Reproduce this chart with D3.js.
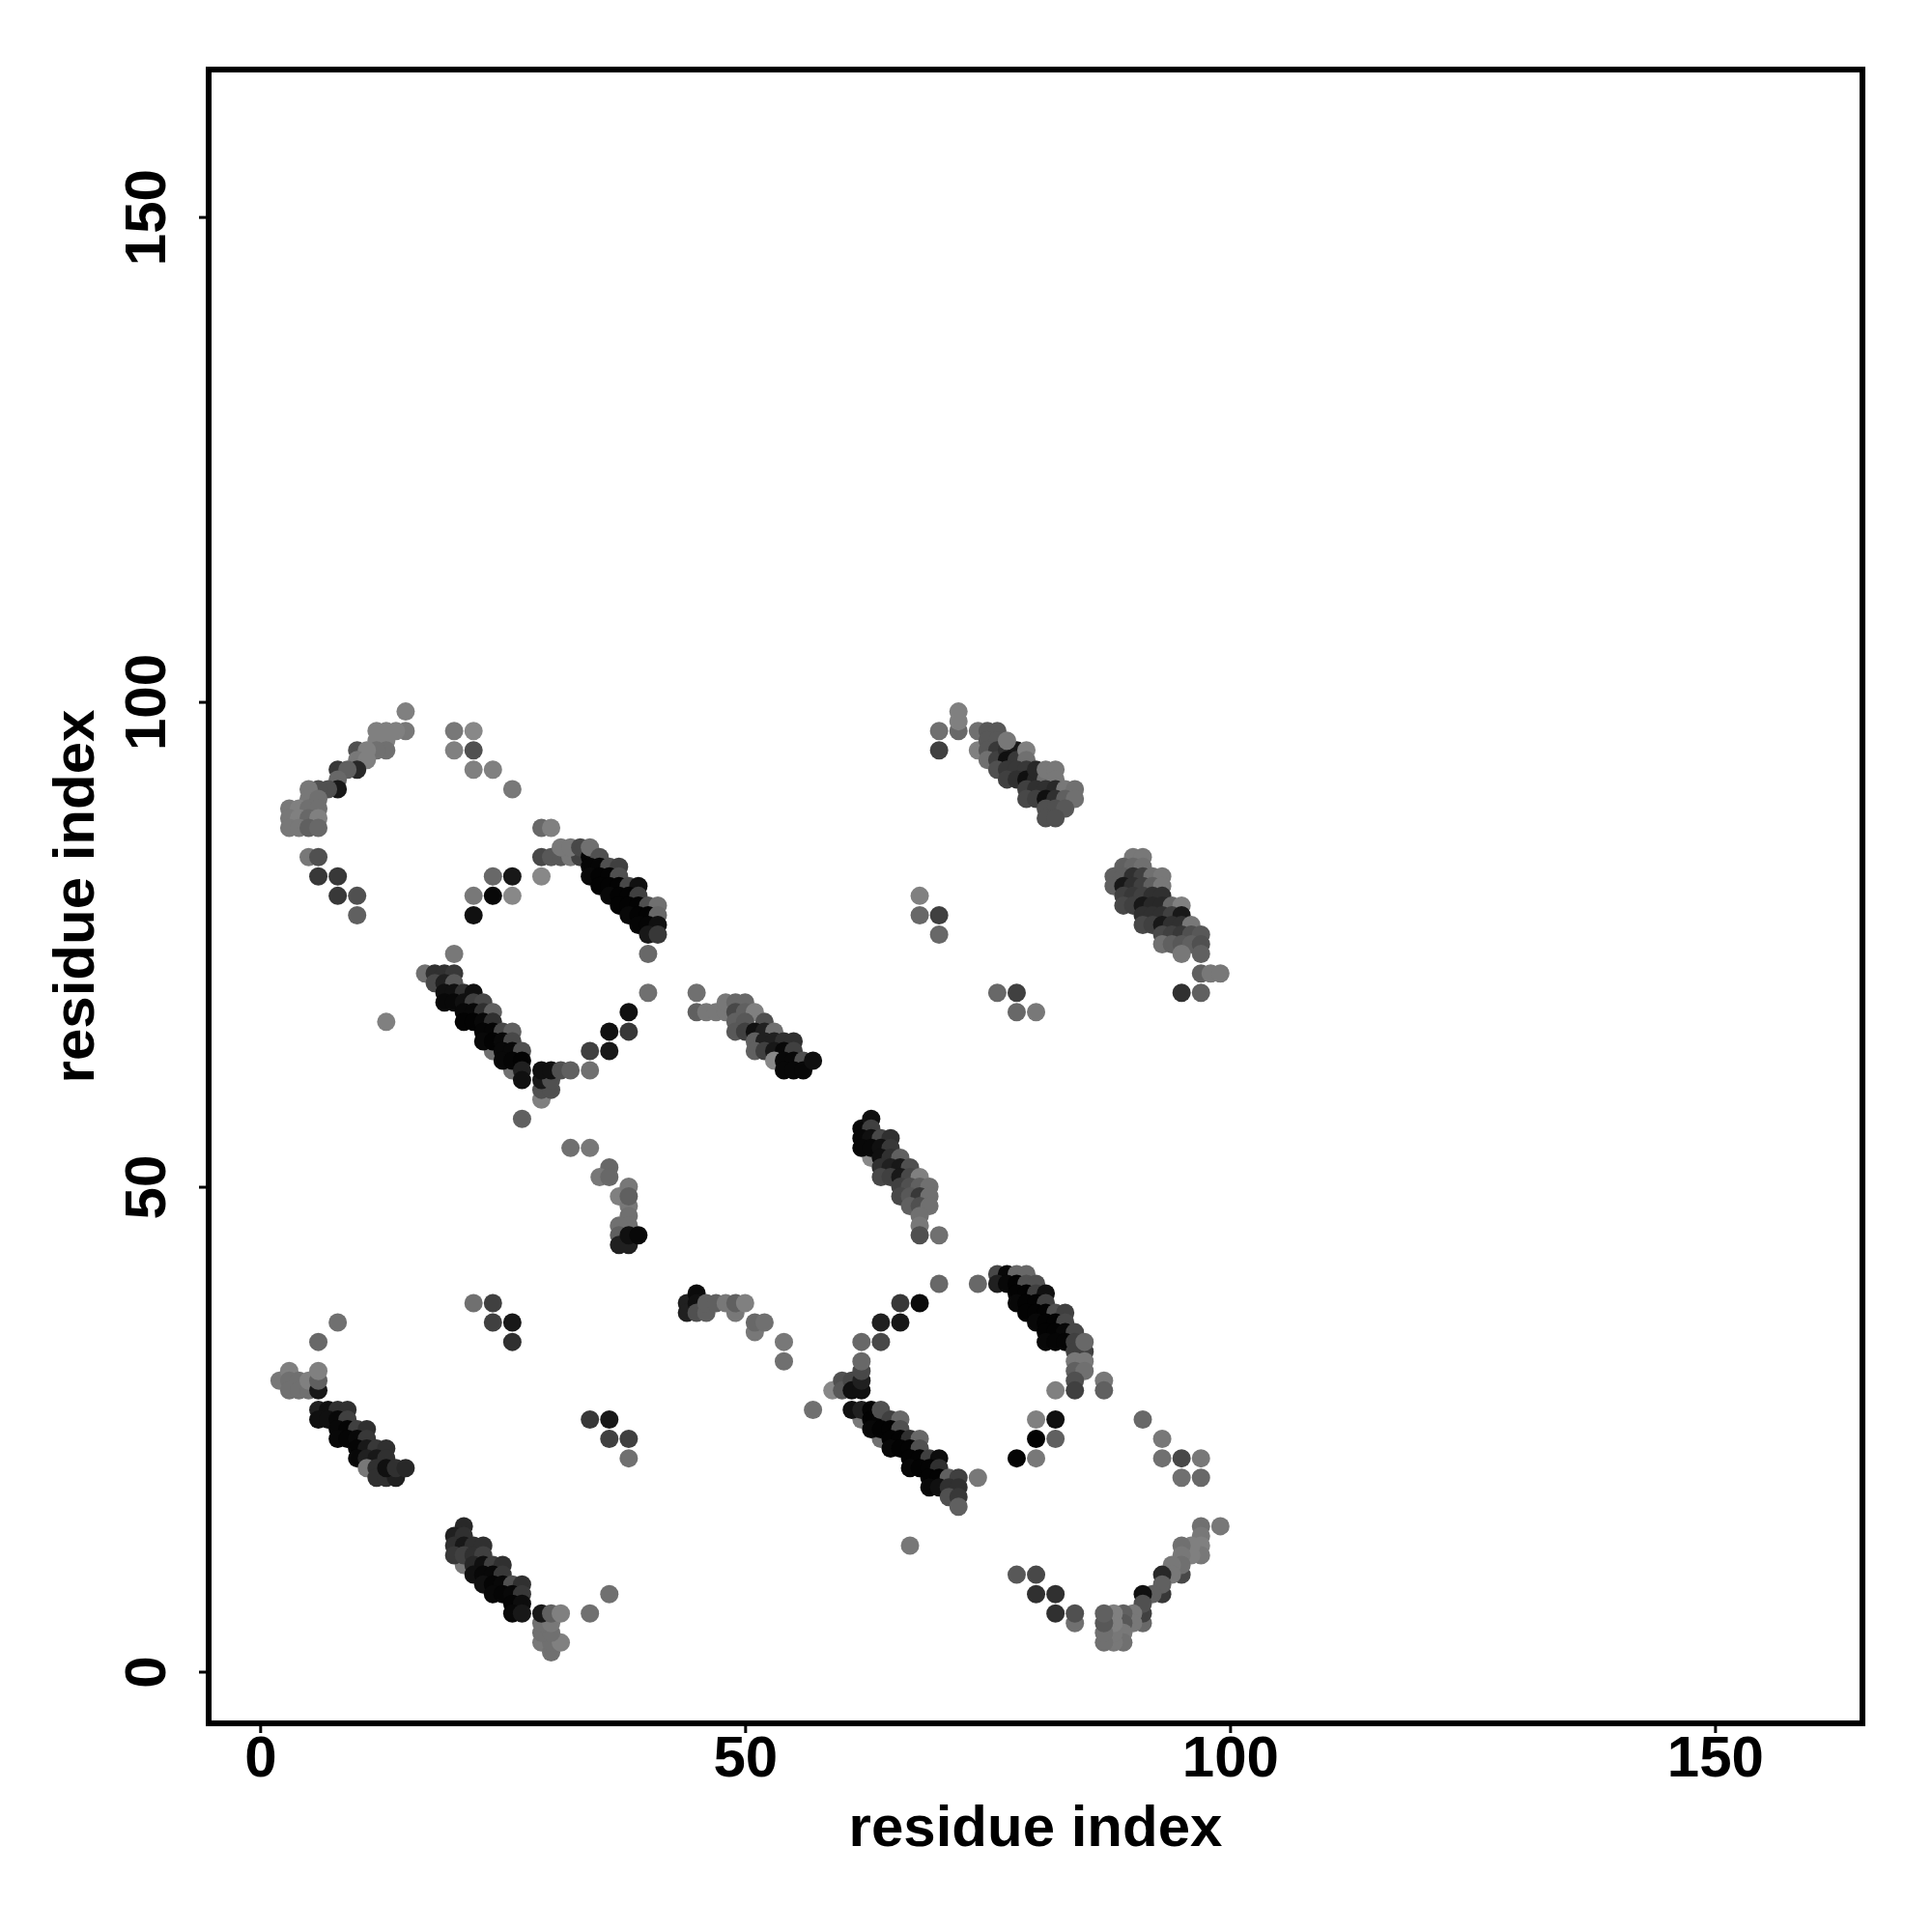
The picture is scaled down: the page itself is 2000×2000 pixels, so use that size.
<!DOCTYPE html>
<html><head><meta charset="utf-8">
<script src="https://cdn.jsdelivr.net/npm/d3@7"></script>
<style>html,body{margin:0;background:#fff}svg{display:block}text{font-family:"Liberation Sans",Arial,sans-serif;font-weight:bold;fill:#000}</style>
</head><body><div id="chart"></div>
<script>
// each contact: [residue i, residue j, score] – score maps to a grey level
const arcUpperLeft=[[15,99,8],[15,97,7.5],[14,97,8],[13,97,8],[12,97,8],[13,96,8],[12,96,8],[10,95,5],[13,95,7],[12,95,7],[11,95,8],[10,94,7.5],[11,94,8],[8,93,3.5],[10,93,2.5],[9,93,6],[8,92,6.5],[8,91,1.5],[7,91,5],[6,91,5],[5,91,7.5],[5,90,7.5],[6,90,7],[3,89,7.5],[4,89,8],[5,89,7],[6,89,7],[3,88,7.5],[4,88,8],[5,88,6.5],[6,88,8],[3,87,7.5],[4,87,7.5],[5,87,6],[6,87,6.5],[5,84,7.5],[6,84,5],[6,82,3.5],[8,82,3.5],[8,80,3.5],[10,80,5],[10,78,6]];
const patchTop=[[20,97,7.5],[22,97,8.5],[20,95,8],[22,95,5],[22,93,8],[24,93,8],[26,91,7.5],[13,67,8],[20,74,7.5],[24,82,6.5],[26,82,1.5],[22,80,7.5],[24,80,.5],[26,80,8.5],[22,78,1],[29,82,8.5]];
const bandA=[[29,87,6.5],[30,87,8],[29,84,4.5],[30,84,5.5],[31,84,5.5],[32,84,7.5],[33,84,4],[31,85,7.5],[32,85,7.5],[33,85,4.5],[34,84,.3],[34,85,7],[35,84,5],[34,83,.3],[35,83,.3],[36,83,5],[37,83,4],[34,82,.5],[35,82,.2],[36,82,.2],[37,82,5],[35,81,.2],[36,81,.2],[37,81,.2],[38,81,4.5],[39,81,1],[36,80,.5],[37,80,.2],[38,80,.2],[39,80,4],[37,79,.2],[38,79,.2],[39,79,.2],[40,79,5],[41,79,7],[38,78,.5],[39,78,.2],[40,78,.2],[41,78,6.5],[39,77,.3],[40,77,.3],[41,77,1],[40,76,1.5],[41,76,3.5],[40,74,6.5],[40,70,7]];
const bandB=[[17,72,7],[18,72,3],[19,72,3],[20,72,3.5],[18,71,4.5],[19,71,2],[20,71,5.5],[19,70,1],[20,70,1],[21,70,3],[22,70,1],[19,69,.5],[20,69,.5],[21,69,1],[22,69,4],[23,69,4.5],[21,68,.5],[22,68,.5],[23,68,3],[24,68,6],[21,67,.2],[22,67,.2],[23,67,.5],[24,67,3],[23,66,.3],[24,66,.3],[25,66,4.5],[26,66,6],[24,64,7],[26,62,7],[23,65,.5],[24,65,.2],[25,65,.5],[26,65,4.5],[25,64,.5],[26,64,.5],[27,64,5],[25,63,.5],[26,63,.3],[27,63,.2],[27,62,2],[27,61,1],[27,57,6]];
const arcLoopA=[[29,59,8],[29,60,5],[30,60,5],[29,61,1.5],[30,61,5],[29,62,1],[30,62,1],[31,62,5],[32,62,6],[34,62,7],[34,64,4],[36,64,1.5],[36,66,1],[38,66,3.5],[38,68,1]];
const bandC=[[45,70,7],[45,68,6],[46,68,7.5],[47,68,7.5],[48,68,7.5],[48,69,7.5],[49,69,6.5],[50,69,6.5],[49,68,4.5],[50,68,6],[51,68,8],[49,67,6],[50,67,5.5],[52,67,5],[49,66,5.5],[50,66,4],[51,66,1],[52,66,2],[53,66,7],[51,65,6],[52,65,2],[53,65,2],[54,65,3],[55,65,3],[51,64,6],[52,64,4],[53,64,1.5],[54,64,.5],[55,64,4],[53,63,8.5],[54,63,.5],[55,63,.5],[56,63,5],[54,62,.5],[55,62,.5],[56,62,.5],[57,63,1]];
const bandD=[[70,97,7],[70,95,4],[72,99,8],[72,97,6.5],[72,98,8],[74,97,7],[75,97,5.5],[76,97,5.5],[74,95,8],[75,96,5.5],[76,96,5.5],[75,95,5.5],[76,95,3.5],[75,94,7],[76,94,4],[77,95,3],[78,95,1.5],[77,96,7.5],[77,94,1],[78,94,3.5],[79,95,8],[79,94,7],[76,93,5],[77,93,3.5],[78,93,3.5],[79,93,3.5],[77,92,4],[78,92,3],[79,92,1],[80,92,2.5],[80,93,2.5],[81,92,7],[81,93,7.5],[82,93,7.5],[82,92,7.5],[79,91,4],[80,91,3],[81,91,3],[82,91,2.5],[83,91,7.5],[84,91,7],[79,90,4.5],[80,90,4],[81,90,1],[82,90,3],[83,90,6],[84,90,7],[81,89,5],[82,89,5],[83,89,5.5],[81,88,5],[82,88,5]];
const patchRight=[[68,80,8],[68,78,6.5],[70,78,4],[70,76,6.5],[76,70,6.5],[78,70,4],[78,68,6.5],[80,68,7.5]];
const bandE=[[90,84,7.5],[91,84,7.5],[89,83,6],[90,83,6.5],[91,83,7],[88,82,6],[89,82,6],[90,82,3],[91,82,4],[92,82,7],[93,82,7.5],[88,81,6],[89,81,1.5],[90,81,3],[91,81,4],[92,81,6],[93,81,7.5],[89,80,4],[90,80,3.5],[91,80,4],[92,80,3],[93,80,3],[89,79,4.5],[90,79,4],[91,79,1.5],[92,79,2.5],[93,79,2.5],[94,79,6.5],[95,79,8],[91,78,3],[92,78,3],[93,78,3],[94,78,4],[95,78,1.5],[91,77,4.5],[92,77,4],[93,77,1.5],[94,77,3],[95,77,3],[96,77,7.5],[93,76,4.5],[94,76,4],[95,76,3.5],[96,76,5],[97,76,5.5],[93,75,7],[94,75,6],[95,75,5.5],[96,75,6],[97,75,5],[95,74,7.5],[97,74,6],[97,72,6],[98,72,7.5],[99,72,7.5],[95,70,3],[97,70,6]];
const midArc=[[32,54,7],[34,54,7.5],[36,52,6.5],[35,51,7.5],[36,51,6.5],[37,49,8],[38,48,7.5],[38,47,7],[38,46,7],[37,46,7],[37,45,6],[38,50,7.5],[38,49,6],[37,44,2],[38,44,2],[38,45,1],[39,45,.5]];
const bandF=[[62,56,.5],[63,57,1],[63,56,4],[62,55,.5],[63,55,1],[64,55,4.5],[65,55,3],[63,53,8.5],[62,54,.5],[63,54,.5],[64,54,1],[65,54,3.5],[64,53,1],[65,53,3],[66,53,6],[64,52,3],[65,52,2],[66,52,1.5],[67,52,5],[64,51,4.5],[65,51,4],[66,51,1.5],[67,51,4.5],[68,51,8],[66,50,4],[67,50,5],[68,50,6],[69,50,7],[66,49,4.5],[67,49,5.5],[68,49,3.5],[69,49,7],[67,48,6],[68,48,5],[69,48,7],[68,47,7],[68,46,7.5],[68,45,5],[70,45,7]];
const bandG=[[44,38,2],[44,37,2],[45,39,.7],[45,38,1],[45,37,5],[46,37,6],[46,38,6],[47,38,6],[48,38,7.5],[49,37,7.5],[49,38,6],[50,38,8],[51,35,7.5],[51,36,6.5],[52,36,7],[54,34,7.5],[54,32,7],[57,27,7]];
const arcLoopB=[[59,29,8.5],[60,30,5],[60,29,5.5],[61,30,4.5],[61,29,1],[62,29,1],[62,30,2],[62,31,4.5],[62,32,6.5],[62,34,6.5],[64,34,4.5],[64,36,2],[66,36,1.5],[66,38,3.5],[68,38,.7],[70,40,6.5],[74,40,6.5]];
const bandH=[[76,41,4.5],[77,41,.5],[78,41,6.5],[79,41,6.5],[76,40,2],[77,40,.5],[78,40,.2],[79,40,5],[80,40,5],[78,39,.2],[79,39,.2],[80,39,4],[81,39,1],[78,38,.5],[79,38,.2],[80,38,.2],[81,38,4],[79,37,.2],[80,37,.2],[81,37,.2],[82,37,5],[83,37,4],[80,36,.5],[81,36,.2],[82,36,.2],[83,36,4.5],[81,35,.2],[82,35,.2],[83,35,.5],[84,35,4.5],[81,34,.5],[82,34,.3],[83,34,.3],[84,34,4],[84,33,4],[85,33,4],[84,32,7.5],[85,32,7.5],[84,31,6],[85,31,7],[85,34,6.5],[84,30,5],[84,29,4],[82,29,8],[87,30,7.5],[87,29,6]];
const bandI=[[62,26,7.5],[64,24,7],[61,27,1],[62,27,2],[63,27,.3],[63,26,.2],[64,26,.3],[64,27,5],[65,26,4],[66,26,6.5],[63,25,.5],[64,25,.2],[65,25,.2],[66,25,5],[65,24,.2],[66,24,.2],[67,24,3],[68,24,6.5],[65,23,.5],[66,23,.2],[67,23,.2],[68,23,5],[67,22,.2],[68,22,.2],[69,22,4],[70,22,.8],[67,21,.5],[68,21,.2],[69,21,.2],[70,21,3],[69,20,.2],[70,20,.2],[71,20,6],[72,20,4],[74,20,7.5],[69,19,.5],[70,19,1],[71,19,3],[72,19,3],[71,18,5],[72,18,3.5],[72,17,6],[67,13,7.5]];
const patchLower=[[80,26,8],[82,26,1],[80,24,.2],[82,24,6],[78,22,.3],[80,22,7.5],[91,26,6.5],[93,24,7.5],[93,22,7],[95,22,4.5],[97,22,7.5],[95,20,7],[97,20,6.5],[22,38,7],[24,38,4],[24,36,4],[26,36,1.5],[26,34,3],[34,26,3.5],[36,26,1.5],[36,24,4],[38,24,4],[38,22,7],[8,36,7],[6,34,6.5],[78,10,5.5],[80,10,4.5],[80,8,3],[82,8,3],[82,6,3],[84,5,7],[84,6,5]];
const arcLowerRight=[[99,15,7.5],[97,15,7],[97,14,7.5],[97,13,8],[97,12,7.5],[96,13,8],[96,12,8],[95,13,7],[95,12,7.5],[95,10,4.5],[95,11,7],[94,11,7.5],[94,10,7.5],[93,10,2.5],[93,8,3.5],[93,9,6],[92,8,6],[91,8,1],[91,5,6.5],[91,6,4],[91,7,5],[90,6,7.5],[90,5,7.5],[89,6,6],[89,5,5.5],[89,4,7.5],[89,3,7],[88,3,7.5],[88,4,7.5],[88,5,8],[88,6,8],[87,3,7],[87,4,7],[87,5,5.5],[87,6,6]];
const bandJ=[[2,30,7.5],[3,31,8],[3,30,7],[4,30,7],[3,29,7],[4,29,7],[5,29,7],[5,30,8],[6,29,1.5],[6,30,6],[6,31,8],[6,27,2],[7,27,1],[8,27,3],[9,27,3],[6,26,1],[7,26,1],[8,26,.5],[9,26,4],[8,25,.5],[9,25,.3],[10,25,4],[11,25,3],[8,24,.5],[9,24,.3],[10,24,.5],[11,24,3.5],[10,23,.3],[11,23,1.5],[12,23,3.5],[13,23,3],[10,22,.5],[11,22,2],[12,22,1.5],[13,22,3],[11,21,7.5],[12,21,3],[12,20,3],[13,20,3],[14,20,2],[13,21,1],[14,21,3],[15,21,2.5]];
const bandK=[[21,11,7.5],[21,15,2.5],[20,14,2],[21,14,3],[20,13,3],[21,13,1.5],[22,13,3],[23,13,3],[20,12,3.5],[21,12,4],[22,12,3],[23,12,4],[22,11,2.5],[23,11,1],[24,11,4],[25,11,3],[22,10,1],[23,10,.5],[24,10,.5],[25,10,3.5],[23,9,1],[24,9,.3],[25,9,.5],[26,9,5],[27,9,3],[24,8,.5],[25,8,.3],[26,8,.5],[27,8,3.5],[26,7,.3],[27,7,.8],[26,6,.5],[27,6,1.5]];
const arcFoot=[[29,3,7.5],[30,2,7],[30,3,7],[31,3,8],[29,4,7],[30,4,7],[29,5,7],[30,5,7.5],[29,6,1.5],[30,6,6],[31,6,8],[34,6,7],[36,8,7]];
const contactGroups=[arcUpperLeft,patchTop,bandA,bandB,arcLoopA,bandC,bandD,patchRight,bandE,midArc,bandF,bandG,arcLoopB,bandH,bandI,patchLower,arcLowerRight,bandJ,bandK,arcFoot];
const xTicks=[0,50,100,150], yTicks=[0,50,100,150];
const axisTitle="residue index";

const svg=d3.select("#chart").append("svg").attr("width",2000).attr("height",2000);
const x=d3.scaleLinear().domain([-5.31,165.2]).range([216,1928]);
const y=d3.scaleLinear().domain([-5.33,165.2]).range([1784,72]);
const grey=d3.scaleLinear().domain([0,9]).range([0,144]);
const shade=s=>{const g=Math.round(grey(s));return `rgb(${g},${g},${g})`};

svg.append("g").selectAll("circle").data(contactGroups.flat()).join("circle")
  .attr("cx",d=>x(d[0])).attr("cy",d=>y(d[1])).attr("r",9.5).attr("fill",d=>shade(d[2]));

svg.append("rect").attr("x",216).attr("y",72).attr("width",1712).attr("height",1712)
  .attr("fill","none").attr("stroke","#000").attr("stroke-width",6);

const gx=svg.append("g").attr("transform","translate(0,1784)")
  .call(d3.axisBottom(x).tickValues(xTicks).tickSize(10).tickFormat(d3.format("d")));
gx.select(".domain").remove();
gx.selectAll("line").attr("stroke","#000").attr("stroke-width",3);
gx.selectAll("text").attr("font-size",60).attr("y",0).attr("dy",null).attr("transform","translate(0,55)");

const gy=svg.append("g").attr("transform","translate(216,0)")
  .call(d3.axisLeft(y).tickValues(yTicks).tickSize(10).tickFormat(d3.format("d")));
gy.select(".domain").remove();
gy.selectAll("line").attr("stroke","#000").attr("stroke-width",3);
gy.selectAll("text").attr("font-size",60).attr("x",0).attr("y",0).attr("dy",null)
  .attr("text-anchor","middle").attr("transform","translate(-45,0) rotate(-90)");

svg.append("text").attr("x",1072).attr("y",1911).attr("text-anchor","middle").attr("font-size",60).text(axisTitle);
svg.append("text").attr("transform","translate(97,928) rotate(-90)").attr("text-anchor","middle").attr("font-size",60).text(axisTitle);
</script></body></html>
